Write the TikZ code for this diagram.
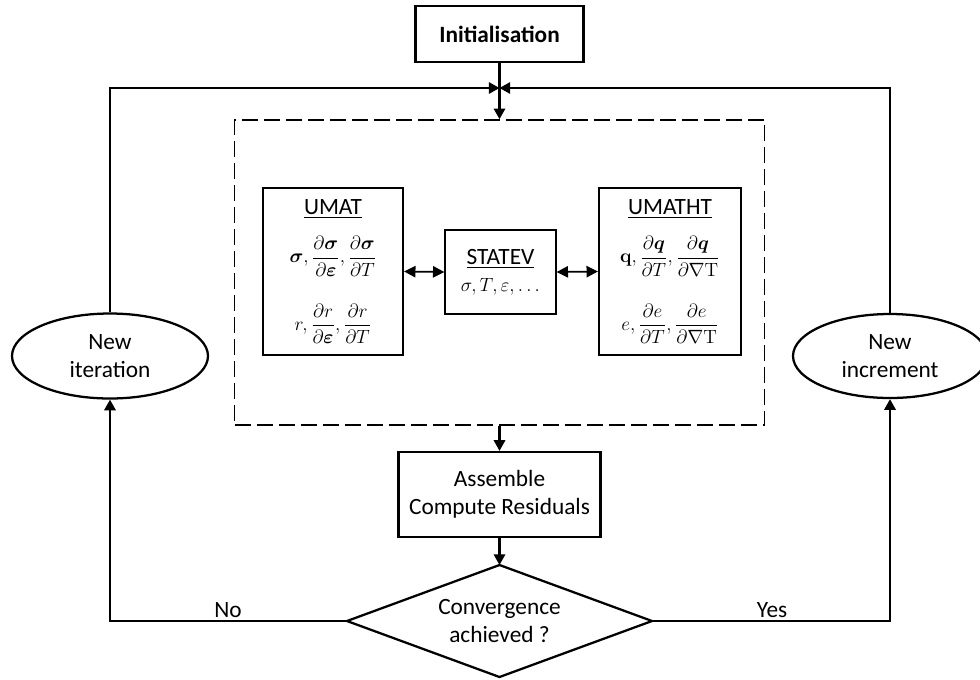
\documentclass[tikz,border=0pt]{standalone}
\usepackage{amsmath}
\usepackage[no-math]{fontspec}
\setmainfont{Carlito}
\usetikzlibrary{shapes.geometric,arrows.meta}
\tikzset{
  box/.style={draw, line width=1.7pt, inner sep=0pt, align=center},
  thinbox/.style={draw, line width=1pt, inner sep=0pt, align=center},
  dashbox/.style={draw, line width=1.2pt, dash pattern=on 12pt off 4.5pt, inner sep=0pt},
  oval/.style={draw, ellipse, line width=1.7pt, inner sep=0pt, align=center},
  txt/.style={inner sep=0pt, align=center},
  outline/.style={line width=1.7pt, line join=miter},
  flow/.style={line width=1.6pt, -{Triangle[length=8pt,width=8.5pt]}},
  dbl/.style={line width=1.3pt, {Triangle[length=8.5pt,width=8.5pt]}-{Triangle[length=8.5pt,width=8.5pt]}},
  lbl/.style={inner sep=0pt, anchor=base}
}
\newcommand{\mfs}{\fontsize{14.5}{16}\selectfont}
\begin{document}
\begin{tikzpicture}[x=0.75pt,y=-0.75pt,font=\fontsize{17.5}{21}\selectfont]
\useasboundingbox (0,0) rectangle (980,679);
\node[box, minimum width=126pt, minimum height=42pt] (init) at (499.5,34) {\textbf{Initialisation}};
\coordinate (junc) at (499.5,88);
\node[dashbox, minimum width=397.5pt, minimum height=228.75pt] (dash) at (499.5,272.5) {};
\node[box, minimum width=105pt, minimum height=125.25pt] (umat) at (333,271.5)
 {\underline{UMAT}\\[12pt]
  {\mfs$\displaystyle \boldsymbol\sigma,\frac{\partial\boldsymbol\sigma}{\partial\boldsymbol\varepsilon},\frac{\partial\boldsymbol\sigma}{\partial T}$}\\[20pt]
  {\mfs$\displaystyle r,\frac{\partial r}{\partial\boldsymbol\varepsilon},\frac{\partial r}{\partial T}$}};
\node[thinbox, minimum width=83.25pt, minimum height=63pt] (statev) at (500.5,272)
 {\underline{STATEV}\\[-1pt]{\fontsize{15.5}{18}\selectfont$\sigma,T,\varepsilon,\ldots$}};
\node[box, minimum width=106.5pt, minimum height=125.25pt] (umatht) at (670,271.5)
 {\underline{UMATHT}\\[12pt]
  {\mfs$\displaystyle \mathbf{q},\frac{\partial\boldsymbol q}{\partial T},\frac{\partial\boldsymbol q}{\partial\nabla\mathrm{T}}$}\\[20pt]
  {\mfs$\displaystyle e,\frac{\partial e}{\partial T},\frac{\partial e}{\partial\nabla\mathrm{T}}$}};
\node[box, minimum width=151.5pt, minimum height=63.75pt] (asm) at (499.5,494.5) {Assemble\\Compute Residuals};
% decision diamond
\coordinate (convN) at (499.5,565);
\coordinate (convS) at (499.5,677);
\coordinate (convW) at (347,621);
\coordinate (convE) at (652,621);
\draw[outline] (convN) -- (convE) -- (convS) -- (convW) -- cycle;
\node[txt] (conv) at (499.5,621) {Convergence\\achieved ?};
\node[oval, minimum width=147pt, minimum height=63.75pt] (iter) at (110,356) {New\\iteration};
\node[oval, minimum width=145.5pt, minimum height=63pt] (incr) at (890,356) {New\\increment};
% connectors
\draw[flow] (init.south) -- (dash.north);
\draw[flow] (iter.north) |- (junc);
\draw[flow] (incr.north) |- (junc);
\draw[dbl] (umat.east) -- (statev.west);
\draw[dbl] (statev.east) -- (umatht.west);
\draw[flow] (dash.south) -- (asm.north);
\draw[flow] (asm.south) -- (convN);
\draw[flow] (convW) -| (iter.south);
\draw[flow] (convE) -| (incr.south);
\node[lbl] (no) at (228,617) {No};
\node[lbl] (yes) at (772,617) {Yes};
\end{tikzpicture}
\end{document}
